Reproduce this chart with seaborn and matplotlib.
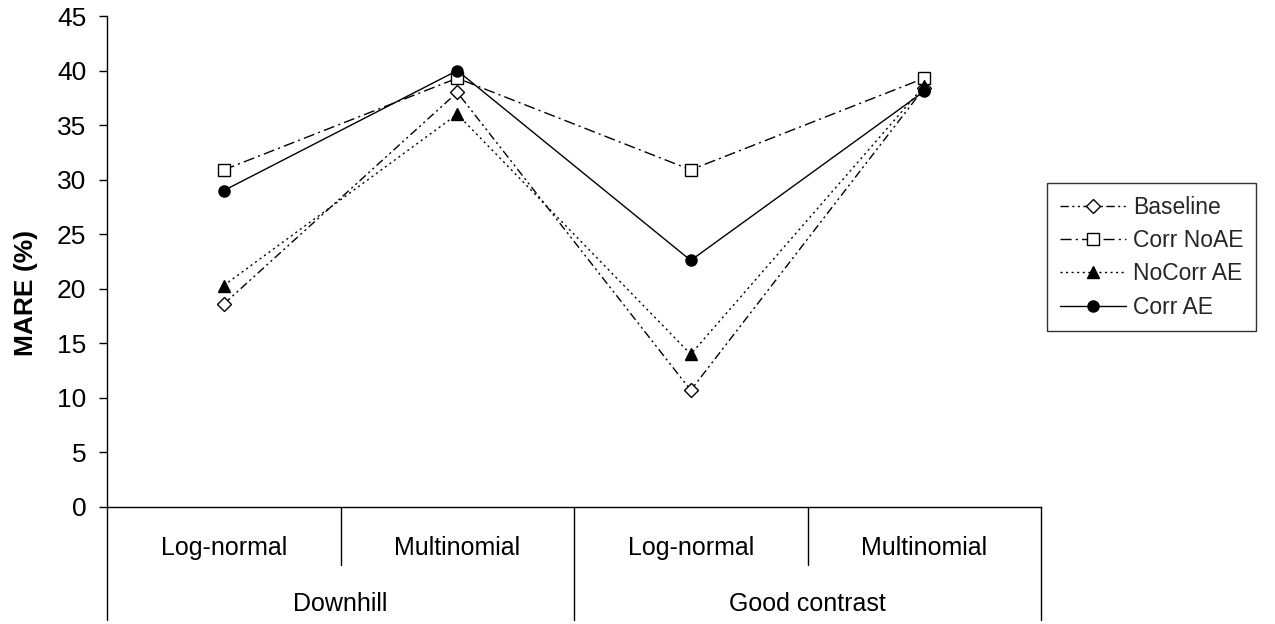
import matplotlib
matplotlib.use('Agg')
import matplotlib.pyplot as plt
import seaborn as sns

# data
sub_labels = ['Log-normal', 'Multinomial', 'Log-normal', 'Multinomial']
group_labels = ['Downhill', 'Good contrast']
series_names = ['Baseline', 'Corr NoAE', 'NoCorr AE', 'Corr AE']
baseline = [18.6, 38.0, 10.7, 38.4]
corr_noae = [30.9, 39.3, 30.9, 39.3]
nocorr_ae = [20.3, 36.0, 14.0, 38.6]
corr_ae = [29.0, 40.0, 22.6, 38.1]

sns.set_theme(style='white')
plt.rcParams['font.family'] = ['Liberation Sans', 'DejaVu Sans']

styles = {
    'Baseline': dict(marker='D', mfc='white', ms=7, ls=(0, (6, 2.5, 1.5, 2.5, 1.5, 2.5))),
    'Corr NoAE': dict(marker='s', mfc='white', ms=8, ls=(0, (8, 3, 1.5, 3))),
    'NoCorr AE': dict(marker='^', mfc='black', ms=8, ls=(0, (1.5, 2.5))),
    'Corr AE': dict(marker='o', mfc='black', ms=8, ls='-'),
}
values = dict(zip(series_names, [baseline, corr_noae, nocorr_ae, corr_ae]))

fig = plt.figure(figsize=(12.75, 6.24), dpi=100)
ax = fig.add_axes([107 / 1275, 1 - 507 / 624, 934 / 1275, 491 / 624])

xpos = list(range(len(sub_labels)))
for name in series_names:
    st = styles[name]
    sns.lineplot(x=xpos, y=values[name], ax=ax, color='black', lw=1.0,
                 linestyle=st['ls'], marker=st['marker'], markersize=st['ms'],
                 markerfacecolor=st['mfc'], markeredgecolor='black',
                 markeredgewidth=1.0, label=name)

ax.set_xlim(-0.5, 3.5)
ax.set_ylim(0, 45)
ax.set_yticks(range(0, 46, 5))
ax.set_xticks([])
ax.tick_params(axis='y', labelsize=19, length=6, width=1, color='black',
               pad=9, left=True, labelcolor='black')
for side in ['top', 'right']:
    ax.spines[side].set_visible(False)
for side in ['left', 'bottom']:
    ax.spines[side].set_color('black')
    ax.spines[side].set_linewidth(1.0)

ax.set_ylabel('MARE (%)', fontsize=19, fontweight='bold', color='black')
ax.yaxis.set_label_coords(-0.074, 0.435)

# two level category axis below the plot
trans = ax.get_xaxis_transform()
for x in [-0.5, 1.5, 3.5]:
    ax.plot([x, x], [0, -0.23], transform=trans, color='black', lw=1.0, clip_on=False)
for x in [0.5, 2.5]:
    ax.plot([x, x], [0, -0.118], transform=trans, color='black', lw=1.0, clip_on=False)
for x, lab in zip(xpos, sub_labels):
    ax.text(x, -0.0835, lab, transform=trans, ha='center', va='center',
            fontsize=18, color='black')
for i, lab in enumerate(group_labels):
    ax.text(2 * i + 0.5, -0.1975, lab, transform=trans, ha='center', va='center',
            fontsize=18, color='black')

leg = ax.legend(loc='upper left', bbox_to_anchor=(1047 / 1275, 1 - 183 / 624),
                bbox_transform=fig.transFigure, fontsize=16.5, frameon=True,
                fancybox=False, edgecolor='black', handlelength=2.9,
                handletextpad=0.3, labelspacing=0.45, borderaxespad=0,
                borderpad=0.55)
leg.get_frame().set_linewidth(1.0)

fig.savefig('out.png', dpi=100)
